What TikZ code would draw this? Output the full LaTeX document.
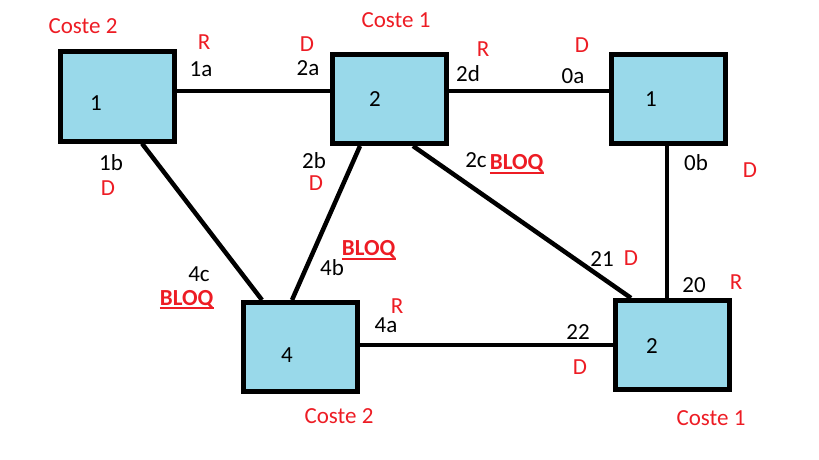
\documentclass[tikz,border=0pt]{standalone}
\usepackage{fontspec}
\setmainfont{Carlito}
\definecolor{boxblue}{RGB}{153,217,234}
\definecolor{portred}{RGB}{237,28,36}
\newcommand{\bloq}{\setbox0\hbox{\textbf{BLOQ}}\rlap{\rule[-4pt]{\wd0}{1.8pt}}\box0}
\tikzset{
  switch/.style={draw,line width=5pt,fill=boxblue,minimum width=114pt,minimum height=89pt,inner sep=0pt},
  link/.style={line width=4.5pt},
  port/.style={inner sep=0pt,font=\fontsize{23}{27}\selectfont},
  portstate/.style={port,text=portred},
  cost/.style={port,text=portred}
}
\begin{document}
\begin{tikzpicture}[x=1pt,y=-1pt]
\useasboundingbox (0,0) rectangle (819,460);
% switches
\node[switch] (A) at (117,96.5) {};
\node[switch] (B) at (389,99) {};
\node[switch] (C) at (668.5,99) {};
\node[switch] (D) at (300.5,347) {};
\node[switch] (E) at (672.5,345) {};
\node[port] (A-num) at (96,103) {1};
\node[port] (B-num) at (375,99) {2};
\node[port] (C-num) at (651,99) {1};
\node[port] (D-num) at (287,355) {4};
\node[port] (E-num) at (652,346) {2};
% links
\draw[link] ([yshift=5.5pt]A.east) -- ([yshift=8pt]B.west);
\draw[link] ([yshift=8pt]B.east) -- ([yshift=8pt,xshift=2pt]C.west);
\draw[link] ([xshift=-1.5pt]C.south) -- ([xshift=-5.5pt,yshift=-2pt]E.north);
\draw[link] ([xshift=25pt]A.south) -- ([xshift=-38.5pt]D.north);
\draw[link] ([xshift=-29pt]B.south) -- ([xshift=-8.5pt]D.north);
\draw[link] ([xshift=24pt]B.south) -- ([xshift=-41.5pt]E.north);
\draw[link] ([yshift=2pt]D.east) -- ([xshift=2pt]E.west);
% costs
\node[cost] (A-cost) at (83,26) {Coste 2};
\node[cost] (B-cost) at (396,20) {Coste 1};
\node[cost] (D-cost) at (339,416) {Coste 2};
\node[cost] (E-cost) at (711,418) {Coste 1};
% port names
\node[port] (p1a) at (201,69) {1a};
\node[port] (p2a) at (308,68) {2a};
\node[port] (p2d) at (468,74) {2d};
\node[port] (p0a) at (573,76) {0a};
\node[port] (p1b) at (111,163) {1b};
\node[port] (p2b) at (314,161) {2b};
\node[port] (p2c) at (476,160) {2c};
\node[port] (p0b) at (696,163) {0b};
\node[port] (p4c) at (199,274.5) {4c};
\node[port] (p4b) at (332,268) {4b};
\node[port] (p4a) at (386,325) {4a};
\node[port] (p21) at (602,259) {21};
\node[port] (p20) at (694,285) {20};
\node[port] (p22) at (578,332) {22};
% port states
\node[portstate] (s1a) at (204,42) {R};
\node[portstate] (s2a) at (307,44) {D};
\node[portstate] (s2d) at (483,49) {R};
\node[portstate] (s0a) at (582,45) {D};
\node[portstate] (s1b) at (108,188) {D};
\node[portstate] (s2b) at (316,183) {D};
\node[portstate] (s0b) at (750,170) {D};
\node[portstate] (s4a) at (397,306) {R};
\node[portstate] (s21) at (631,258) {D};
\node[portstate] (s20) at (736,282) {R};
\node[portstate] (s22) at (580,367) {D};
\node[portstate] (s2c) at (517,164) {\bloq};
\node[portstate] (s4c) at (187,299.5) {\bloq};
\node[portstate] (s4b) at (369,250) {\bloq};
\end{tikzpicture}
\end{document}
